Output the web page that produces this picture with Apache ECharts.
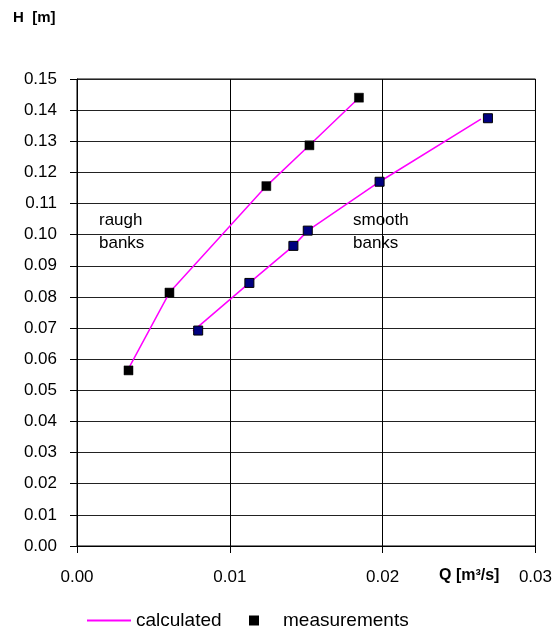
<!DOCTYPE html>
<html><head><meta charset="utf-8">
<script src="https://cdn.jsdelivr.net/npm/echarts@6/dist/echarts.min.js"></script>
<style>html,body{margin:0;padding:0;background:#fff}#c{width:555px;height:630px}</style>
</head><body><div id="c"></div>
<script>
// Measured points
var roughQ = [0.00337, 0.00605, 0.01239, 0.01521, 0.01845];
var roughH = [0.0564, 0.0814, 0.1156, 0.1287, 0.1440];
var smoothQ = [0.00793, 0.01128, 0.01416, 0.01510, 0.01980, 0.02689];
var smoothH = [0.0692, 0.0845, 0.0964, 0.1013, 0.1170, 0.1374];
// Calculated curves
var calcRoughQ = [0.00337, 0.00605, 0.01239, 0.01521, 0.01825];
var calcRoughH = [0.0570, 0.0814, 0.1156, 0.1287, 0.1430];
var calcSmoothQ = [0.00759, 0.01128, 0.01416, 0.01510, 0.01980, 0.02643];
var calcSmoothH = [0.0690, 0.0845, 0.0964, 0.1013, 0.1170, 0.1371];
// Axis ticks
var xMin = 0, xMax = 0.03, xStep = 0.01;
var yMin = 0, yMax = 0.15, yStep = 0.01;

function pairs(a, b) { return a.map(function (v, i) { return [v, b[i]]; }); }

var font = 'Liberation Sans, Arial, sans-serif';
var chart = echarts.init(document.getElementById('c'), null, {renderer: 'canvas'});
chart.setOption({
  animation: false,
  backgroundColor: '#fff',
  grid: {left: 77, right: 19, top: 79, bottom: 84, show: true, borderColor: '#000', borderWidth: 1},
  xAxis: {
    type: 'value', min: xMin, max: xMax, interval: xStep,
    axisLine: {show: true, lineStyle: {color: '#000'}},
    axisTick: {show: true, length: 7, inside: false, lineStyle: {color: '#000'}},
    axisLabel: {color: '#000', fontFamily: font, fontSize: 17, margin: 23,
      formatter: function (v) { return v.toFixed(2); }},
    splitLine: {show: true, lineStyle: {color: '#000', width: 1}}
  },
  yAxis: {
    type: 'value', min: yMin, max: yMax, interval: yStep,
    axisLine: {show: true, lineStyle: {color: '#000'}},
    axisTick: {show: true, length: 7, lineStyle: {color: '#000'}},
    axisLabel: {color: '#000', fontFamily: font, fontSize: 17, margin: 20,
      formatter: function (v) { return v.toFixed(2); }},
    splitLine: {show: true, lineStyle: {color: '#222', width: 1}}
  },
  legend: [{
    top: 611, left: 87, padding: 0, itemWidth: 44, itemHeight: 2, itemGap: 20,
    textStyle: {fontFamily: font, fontSize: 19, color: '#000', padding: [0, 0, 4, 0]},
    data: [{name: 'calculated', icon: 'rect', itemStyle: {color: '#FF00FF'}}]
  }, {
    top: 611, left: 249, padding: 0, itemWidth: 8, itemHeight: 8, itemGap: 20,
    textStyle: {fontFamily: font, fontSize: 19, color: '#000', padding: [0, 0, 4, 20]},
    data: [{name: 'measurements', icon: 'rect', itemStyle: {color: '#000'}}]
  }],
  graphic: [
    {type: 'text', left: 13, top: 10, style: {text: 'H  [m]', fontFamily: font, fontSize: 15, fontWeight: 'bold', fill: '#000'}},
    {type: 'text', left: 439, top: 568, style: {text: 'Q [m³/s]', fontFamily: font, fontSize: 16, fontWeight: 'bold', fill: '#000'}},
    {type: 'text', left: 99, top: 212, style: {text: 'raugh', fontFamily: font, fontSize: 17, fill: '#000'}},
    {type: 'text', left: 99, top: 235, style: {text: 'banks', fontFamily: font, fontSize: 17, fill: '#000'}},
    {type: 'text', left: 353, top: 212, style: {text: 'smooth', fontFamily: font, fontSize: 17, fill: '#000'}},
    {type: 'text', left: 353, top: 235, style: {text: 'banks', fontFamily: font, fontSize: 17, fill: '#000'}}
  ],
  series: [
    {name: 'calculated', type: 'line', data: pairs(calcRoughQ, calcRoughH), symbol: 'none',
      lineStyle: {color: '#FF00FF', width: 1.5}, itemStyle: {color: '#FF00FF'}, z: 2},
    {name: 'calculated', type: 'line', data: pairs(calcSmoothQ, calcSmoothH), symbol: 'none',
      lineStyle: {color: '#FF00FF', width: 1.5}, itemStyle: {color: '#FF00FF'}, z: 2},
    {name: 'measurements', type: 'scatter', data: pairs(roughQ, roughH), symbol: 'rect', symbolSize: 9,
      itemStyle: {color: '#000', borderColor: '#000', borderWidth: 0.5, opacity: 1}, z: 3},
    {name: 'measurements', type: 'scatter', data: pairs(smoothQ, smoothH), symbol: 'rect', symbolSize: 9,
      itemStyle: {color: '#000080', borderColor: '#000', borderWidth: 1, opacity: 1}, z: 3}
  ]
});
</script></body></html>
